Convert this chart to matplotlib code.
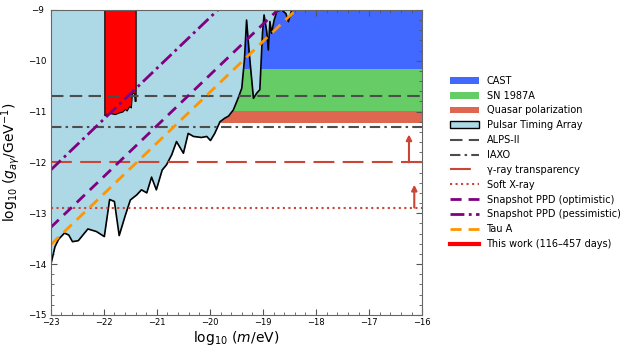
import numpy as np
import matplotlib
matplotlib.use("Agg")
import matplotlib.pyplot as plt
from matplotlib.patches import Patch
from matplotlib.lines import Line2D
from matplotlib.ticker import MultipleLocator

## Limiti orizzontali, log10(g / GeV^-1)
CAST_LIM = -10.17
SN1987A_LIM = -10.99
QUASAR_LIM = -11.23
ALPS_LIM = -10.70
IAXO_LIM = -11.30
GAMMA_LIM = -12.00
SOFTX_LIM = -12.89

## Frecce (limite inferiore) su gamma e soft X
GAMMA_ARROW = [-16.25, -12.00, -11.45]
SOFTX_ARROW = [-16.15, -12.89, -12.44]

## Rette con pendenza 1: log g = log m + c
PPD_OPT_C = 9.72
PPD_PESS_C = 10.85
TAUA_C = 9.38
LINE_LOGM = np.array([-23.0, -16.0])

## Pulsar Timing Array
pta_logm = [-23.00, -22.92, -22.85, -22.74, -22.66, -22.59, -22.48, -22.30, -22.14,
            -21.99, -21.89, -21.80, -21.71, -21.60, -21.50, -21.38, -21.29, -21.19,
            -21.10, -21.01, -20.90, -20.82, -20.72, -20.63, -20.50, -20.41, -20.31,
            -20.16, -20.06, -19.99, -19.91, -19.81, -19.72, -19.65, -19.56, -19.47,
            -19.40, -19.35, -19.31, -19.26, -19.18, -19.12, -19.06, -19.01, -18.98,
            -18.93, -18.90, -18.87, -18.84, -18.79, -18.74, -18.65, -18.57, -18.52,
            -18.46]
pta_logg = [-14.02, -13.66, -13.51, -13.39, -13.43, -13.56, -13.54, -13.31, -13.36,
            -13.46, -12.73, -12.77, -13.44, -13.06, -12.74, -12.64, -12.54, -12.60,
            -12.29, -12.54, -12.15, -12.05, -11.85, -11.59, -11.82, -11.43, -11.49,
            -11.51, -11.49, -11.57, -11.43, -11.20, -11.13, -11.09, -10.97, -10.74,
            -10.54, -9.98, -9.20, -9.85, -10.74, -10.64, -10.57, -9.46, -9.10,
            -9.43, -9.79, -9.23, -9.46, -9.20, -9.03, -9.00, -9.07, -9.23,
            -9.00]

## Questo lavoro (116-457 giorni)
tw_logm = [-21.99, -21.89, -21.79, -21.72, -21.65, -21.60, -21.57, -21.52, -21.49,
           -21.47, -21.43, -21.42, -21.40]
tw_logg = [-11.07, -11.03, -11.05, -11.02, -11.00, -10.95, -10.98, -10.89, -10.92,
           -10.64, -10.63, -10.79, -10.79]

XMIN, XMAX = -23, -16
YMIN, YMAX = -15, -9

c_cast = "#4169FF"
c_sn = "#66CC66"
c_quasar = "#E0674F"
c_pta = "lightblue"
c_red = "#CC4435"
c_gray = "#4d4d4d"
c_purple = "purple"
c_orange = "#FF9500"

fig, ax = plt.subplots(figsize=(6.34, 3.53), dpi=100)
fig.subplots_adjust(left=0.080, right=0.666, bottom=0.108, top=0.972)

ax.axhspan(CAST_LIM, YMAX, color=c_cast, lw=0, zorder=1)
ax.axhspan(SN1987A_LIM, CAST_LIM, color=c_sn, lw=0, zorder=1)
ax.axhspan(QUASAR_LIM, SN1987A_LIM, color=c_quasar, lw=0, zorder=1)

ax.fill_between(pta_logm, pta_logg, YMAX, color=c_pta, lw=0, zorder=2)
ax.plot(pta_logm, pta_logg, color="k", lw=1.2, zorder=3)

ax.fill_between(tw_logm, tw_logg, YMAX, facecolor="red", edgecolor="k", lw=0.8, zorder=4)

ax.axhline(ALPS_LIM, color=c_gray, lw=1.5, dashes=(6, 3), zorder=5)
ax.axhline(IAXO_LIM, color=c_gray, lw=1.5, dashes=(5, 2, 1.2, 2), zorder=5)
ax.axhline(GAMMA_LIM, color=c_red, lw=1.5, dashes=(10, 4), zorder=5)
ax.axhline(SOFTX_LIM, color=c_red, lw=1.5, ls=":", zorder=5)

for arr in (GAMMA_ARROW, SOFTX_ARROW):
    ax.annotate("", xy=(arr[0], arr[2]), xytext=(arr[0], arr[1]),
                arrowprops=dict(arrowstyle="-|>", color=c_red, lw=1.5,
                                mutation_scale=8, shrinkA=0, shrinkB=0), zorder=6)

ax.plot(LINE_LOGM, LINE_LOGM + PPD_OPT_C, color=c_purple, lw=2, dashes=(4, 2.5), zorder=6)
ax.plot(LINE_LOGM, LINE_LOGM + PPD_PESS_C, color=c_purple, lw=2, dashes=(5, 1.6, 1, 1.6), zorder=6)
ax.plot(LINE_LOGM, LINE_LOGM + TAUA_C, color=c_orange, lw=2, dashes=(4, 2.5), zorder=6)

ax.set_xlim(XMIN, XMAX)
ax.set_ylim(YMIN, YMAX)
ax.xaxis.set_minor_locator(MultipleLocator(0.2))
ax.yaxis.set_minor_locator(MultipleLocator(0.2))
ax.tick_params(which="both", direction="in", top=True, right=True, color="#555555", labelsize=6)
ax.tick_params(which="major", length=4)
ax.tick_params(which="minor", length=2)
ax.tick_params(axis="x", pad=2)
ax.tick_params(axis="y", pad=9.5, labelsize=6.3)
for lab in ax.get_yticklabels():
    lab.set_horizontalalignment("center")
for s in ax.spines.values():
    s.set_color("#666666")
    s.set_zorder(10)

ax.set_xlabel(r"$\log_{10}\,(m/\mathrm{eV})$", fontsize=10, labelpad=2)
ax.set_ylabel(r"$\log_{10}\,(g_{a\gamma}/\mathrm{GeV}^{-1})$", fontsize=10)
ax.yaxis.set_label_coords(-0.078, 0.5)

handles = [
    Patch(facecolor=c_cast, label="CAST"),
    Patch(facecolor=c_sn, label="SN 1987A"),
    Patch(facecolor=c_quasar, label="Quasar polarization"),
    Patch(facecolor=c_pta, edgecolor="k", label="Pulsar Timing Array"),
    Line2D([], [], color=c_gray, lw=1.5, dashes=(6, 3), label="ALPS-II"),
    Line2D([], [], color=c_gray, lw=1.5, dashes=(5, 2, 1.2, 2), label="IAXO"),
    Line2D([], [], color=c_red, lw=1.5, dashes=(10, 4), label="\u03b3-ray transparency"),
    Line2D([], [], color=c_red, lw=1.5, ls=":", label="Soft X-ray"),
    Line2D([], [], color=c_purple, lw=2, dashes=(4, 2.5), label="Snapshot PPD (optimistic)"),
    Line2D([], [], color=c_purple, lw=2, dashes=(5, 1.6, 1, 1.6), label="Snapshot PPD (pessimistic)"),
    Line2D([], [], color=c_orange, lw=2, dashes=(4, 2.5), label="Tau A"),
    Line2D([], [], color="red", lw=3, label="This work (116\u2013457 days)"),
]
ax.legend(handles=handles, loc="center left", bbox_to_anchor=(1.05, 0.5), frameon=False,
          fontsize=7, handlelength=3, labelspacing=0.5, handletextpad=0.8)

plt.savefig("out.png", dpi=100)
